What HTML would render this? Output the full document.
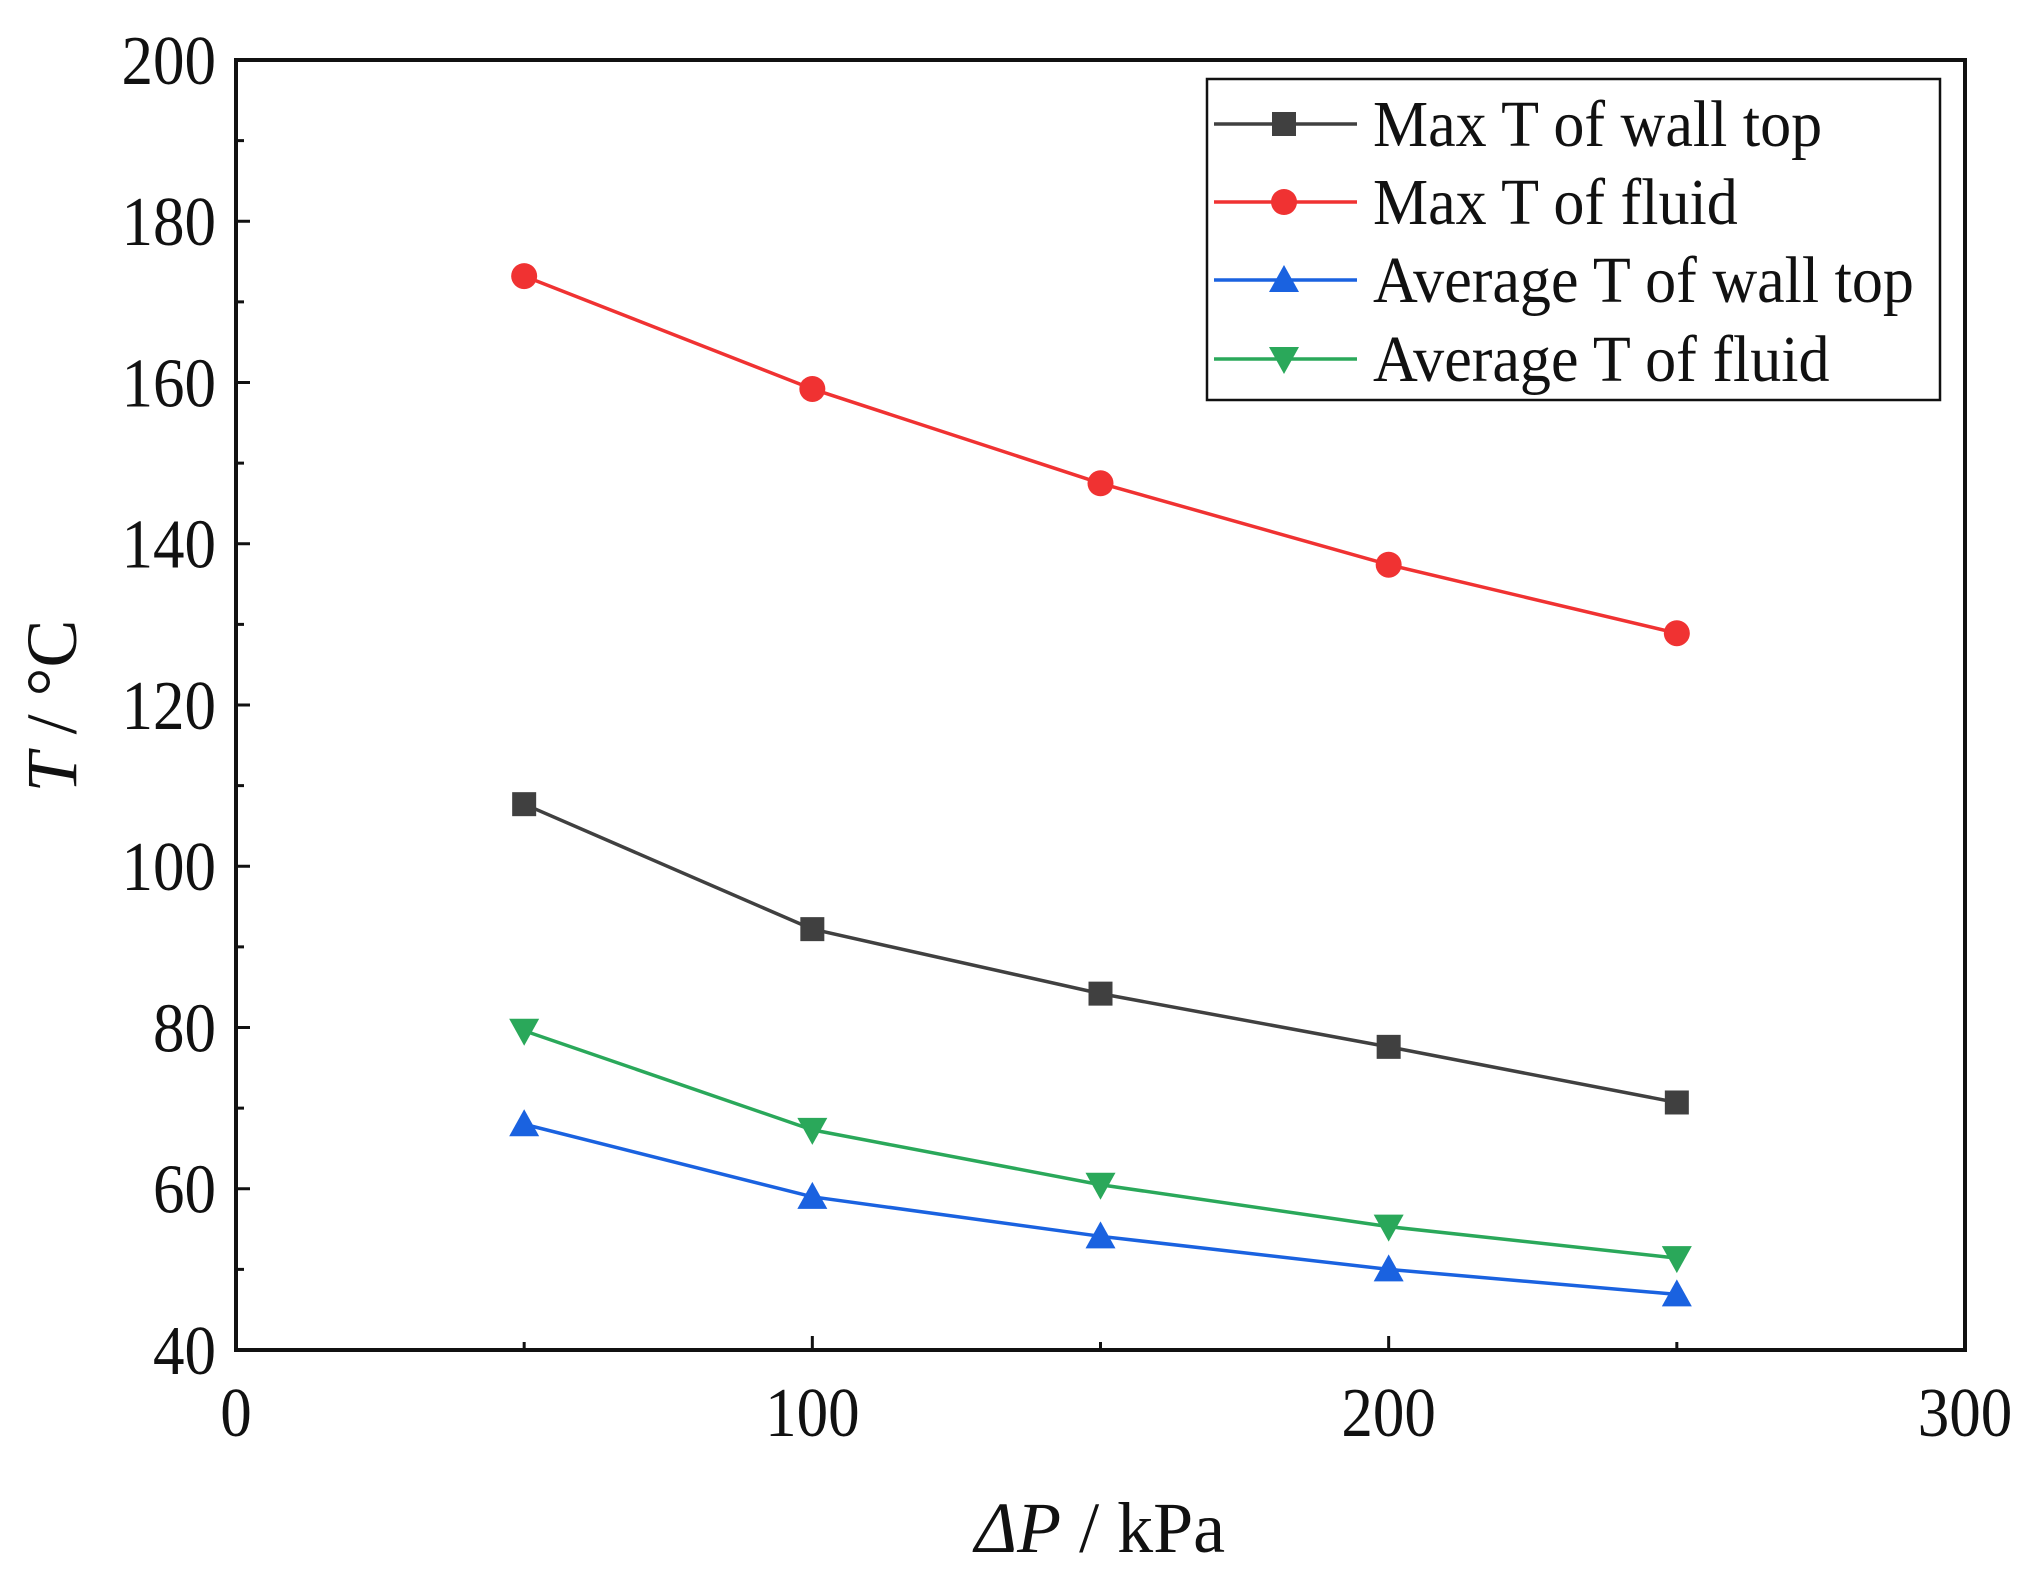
<!DOCTYPE html>
<html><head><meta charset="utf-8"><style>
html,body{margin:0;padding:0;background:#fff;}
svg text{font-family:"Liberation Serif",serif;fill:#111;}
</style></head><body>
<svg id="chart" width="2032" height="1577" viewBox="0 0 2032 1577">
<g id="plot"></g>
</svg>
<script>
const categories=[50,100,150,200,250];
const maxWall=[107.7,92.2,84.2,77.6,70.7];
const maxFluid=[173.2,159.2,147.5,137.4,128.9];
const avgWall=[68.0,59.0,54.1,50.0,46.9];
const avgFluid=[79.6,67.3,60.5,55.3,51.4];
const xTicks=[0,100,200,300];
const yTicks=[40,60,80,100,120,140,160,180,200];
const seriesNames=["Max T of wall top","Max T of fluid","Average T of wall top","Average T of fluid"];

const L=236,R=1965,T=60,B=1350;
const X=v=>L+(v-0)/(300-0)*(R-L);
const Y=v=>B-(v-40)/(200-40)*(B-T);
const NS="http://www.w3.org/2000/svg";
const g=document.getElementById('plot');
function el(t,a,p){const e=document.createElementNS(NS,t);for(const k in a)e.setAttribute(k,a[k]);(p||g).appendChild(e);return e;}

for(let v=40;v<=200;v+=10){const maj=(v%20===0);const y=Y(v);
 const t=el('line',{x1:L,x2:L+(maj?14:8),y1:y,y2:y,stroke:'#111','stroke-width':3});
 
 }
for(let v=0;v<=300;v+=50){const maj=(v%100===0);const x=X(v);
 const t=el('line',{x1:x,x2:x,y1:B,y2:B-(maj?14:8),stroke:'#111','stroke-width':3});
 
 }
yTicks.forEach(v=>{const t=el('text',{x:L-20,y:Y(v)+24,'text-anchor':'end','font-size':70,transform:`translate(${L-20},0) scale(0.9,1) translate(${-(L-20)},0)`});t.textContent=v;
 
 });
xTicks.forEach(v=>{const t=el('text',{x:X(v),y:B+86,'text-anchor':'middle','font-size':70,transform:`translate(${X(v)},0) scale(0.9,1) translate(${-X(v)},0)`});t.textContent=v;
 
 });

const frame=el('rect',{x:L,y:T,width:R-L,height:B-T,fill:'none',stroke:'#111','stroke-width':4});



const xt=el('text',{x:1100,y:1552,'text-anchor':'middle','font-size':72});
xt.innerHTML='<tspan font-style="italic">ΔP</tspan> / kPa';


const yt=el('text',{x:0,y:0,'text-anchor':'middle','font-size':72,transform:'translate(76,706) rotate(-90)'});
yt.innerHTML='<tspan font-style="italic">T</tspan> / °C';



function marker(type,x,y,c,parent){
 let m;
 if(type==='square')m=el('rect',{x:x-12,y:y-12,width:24,height:24,fill:c},parent);
 else if(type==='circle')m=el('circle',{cx:x,cy:y,r:13,fill:c},parent);
 else if(type==='up')m=el('polygon',{points:`${x},${y-15} ${x-15},${y+12} ${x+15},${y+12}`,fill:c},parent);
 else m=el('polygon',{points:`${x},${y+15} ${x-15},${y-12} ${x+15},${y-12}`,fill:c},parent);
 return m;}

const series=[[maxWall,'#404040','square','max-wall-top'],[maxFluid,'#f03232','circle','max-fluid'],[avgWall,'#1a62e0','up','avg-wall-top'],[avgFluid,'#2aa85a','down','avg-fluid']];
series.forEach(([d,c,mk,name])=>{
 const p=el('polyline',{points:d.map((v,i)=>X(categories[i])+','+Y(v)).join(' '),fill:'none',stroke:c,'stroke-width':3.5});
 
 
 d.forEach((v,i)=>{const m=marker(mk,X(categories[i]),Y(v),c);
  
  });
});

const lg=el('g',{});


el('rect',{x:1207,y:79,width:733,height:321,fill:'#fff',stroke:'#111','stroke-width':2.5},lg);
const ly=[124,202,280,359];
series.forEach(([d,c,mk,name],i)=>{
 const e=el('g',{},lg);
 
 
 el('line',{x1:1214,x2:1357,y1:ly[i],y2:ly[i],stroke:c,'stroke-width':3.5},e);
 marker(mk,1284,ly[i],c,e);
 const t=el('text',{x:1373,y:ly[i]+22,'font-size':66,transform:`translate(1373,0) scale(0.94,1) translate(-1373,0)`},e);t.textContent=seriesNames[i];
});
</script>
</body></html>
